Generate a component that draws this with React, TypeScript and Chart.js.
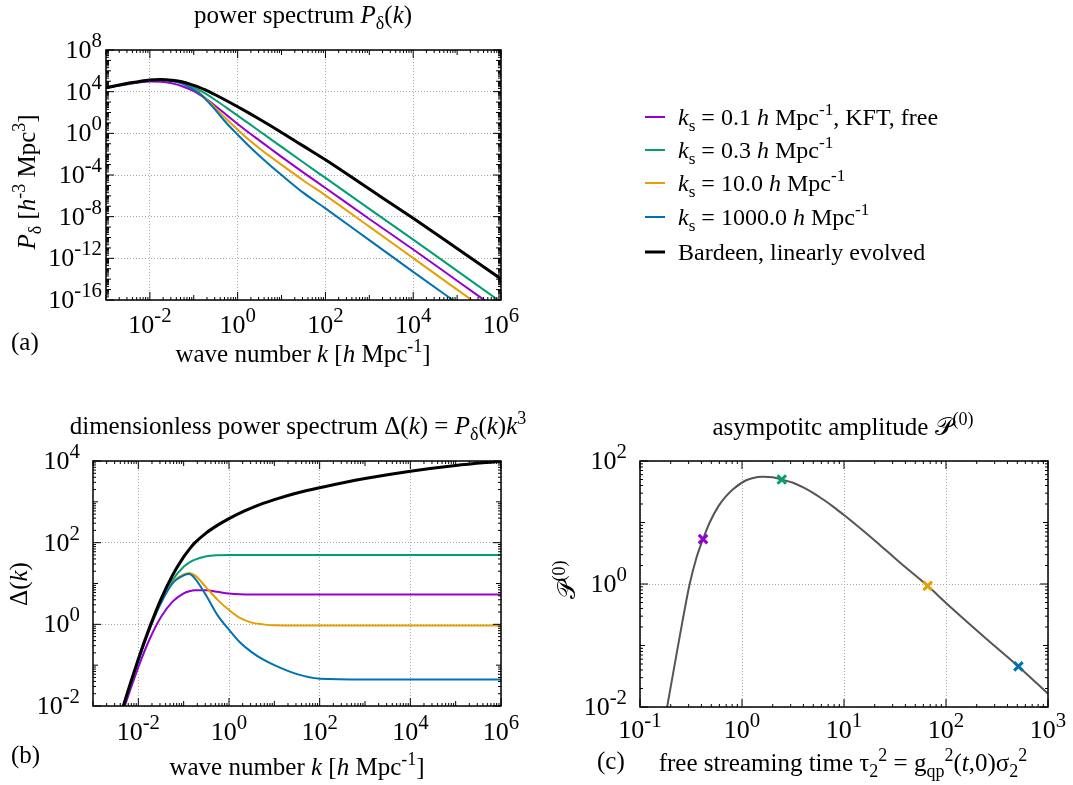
import React, { useEffect, useRef } from "react";
import { Chart, registerables } from "chart.js";

Chart.register(...registerables);

const FONT = '"Liberation Serif", "DejaVu Serif", "DejaVu Sans", serif';
const FS_TITLE = 25;
const FS_LEGEND = 24;
const FS_TICK = 26;
const GRID = "#a8a8a8";

const C_PURPLE = "#9400d3";
const C_GREEN = "#009e73";
const C_ORANGE = "#e69f00";
const C_BLUE = "#0072b2";
const C_BLACK = "#000000";
const C_CURVE = "#555555";

// ---------- shared wave-number grid ----------
const kGrid = [1e-3, 3.16e-3, 1e-2, 1.78e-2, 3.16e-2, 5.62e-2, 0.1, 0.133, 0.178, 0.316, 0.562, 1, 1.78, 3.16, 5.62, 10, 31.6, 100, 1e3, 1e4, 1e5, 1e6];

// ---------- Panel (a): power spectrum P(k) ----------
const pKs01 = [2.4e4, 5.25e4, 9.33e4, 8.91e4, 6.31e4, 3.16e4, 1.12e4, 5.62e3, 2.51e3, 398, 56.2, 7.94, 1.2, 0.2, 0.0331, 5.5e-3, 1.7e-4, 5.62e-6, 6.03e-9, 7.08e-12, 7.08e-15, 7.08e-18];
const pKs03 = [2.4e4, 5.75e4, 1.35e5, 1.45e5, 1.17e5, 7.08e4, 2.63e4, 1.43e4, 7.08e3, 1.5e3, 281, 50.1, 8.91, 1.58, 0.282, 0.0501, 1.58e-3, 5.25e-5, 5.62e-8, 6.31e-11, 6.31e-14, 6.31e-17];
const pKs10 = [2.4e4, 5.75e4, 1.32e5, 1.41e5, 1.12e5, 5.89e4, 1.66e4, 7.67e3, 2.82e3, 251, 22.4, 2.24, 0.251, 0.0347, 5.62e-3, 9.44e-4, 2.95e-5, 1.12e-6, 1.1e-9, 1.05e-12, 1e-15, 1e-18];
const pKs1000 = [2.4e4, 5.75e4, 1.26e5, 1.35e5, 1.05e5, 5.62e4, 1.58e4, 7.16e3, 2.34e3, 158, 9.33, 0.741, 0.0631, 6.61e-3, 7.76e-4, 1e-4, 1.91e-6, 6.31e-8, 5.62e-11, 5.01e-14, 5.01e-17, 5.01e-20];
const pBardeen = [2.4e4, 6.31e4, 1.35e5, 1.51e5, 1.26e5, 8.51e4, 3.98e4, 2.6e4, 1.55e4, 4.79e3, 1.35e3, 359, 91.2, 22.4, 5.25, 1.19, 0.0589, 2.88e-3, 4.47e-6, 6.92e-9, 8.71e-12, 1.05e-14];
const xExpA = [-2, 0, 2, 4, 6];
const yExpA = [8, 4, 0, -4, -8, -12, -16];

// ---------- Panel (b): dimensionless power spectrum Δ(k) ----------
const dKs01 = [2.4e-5, 2.0e-3, 0.0891, 0.437, 1.51, 3.55, 5.75, 6.46, 6.84, 6.84, 6.24, 5.69, 5.46, 5.38, 5.37, 5.37, 5.37, 5.37, 5.37, 5.37, 5.37, 5.37];
const dKs03 = [2.4e-5, 2.34e-3, 0.135, 0.804, 3.69, 12.0, 25.8, 32.6, 38.5, 46.6, 49.5, 50.1, 50.1, 50.1, 50.1, 50.1, 50.1, 50.1, 50.1, 50.1, 50.1, 50.1];
const dKs10 = [2.4e-5, 2.29e-3, 0.132, 0.794, 3.55, 10.5, 16.6, 18.2, 15.8, 7.94, 3.98, 2.24, 1.41, 1.1, 1.0, 0.944, 0.933, 0.933, 0.933, 0.933, 0.933, 0.933];
const dKs1000 = [2.4e-5, 2.29e-3, 0.126, 0.759, 3.31, 10.0, 15.8, 17.0, 13.2, 5.01, 1.66, 0.741, 0.355, 0.209, 0.138, 0.1, 0.0603, 0.0468, 0.0447, 0.0447, 0.0447, 0.0447];
const dBardeen = [2.4e-5, 2.4e-3, 0.141, 0.853, 4.16, 15.6, 44.7, 68.7, 100, 174, 269, 389, 537, 708, 912, 1135, 1648, 2213, 3715, 5623, 7762, 9900];
const xExpB = [-2, 0, 2, 4, 6];
const yExpB = [4, 2, 0, -2];

// ---------- Panel (c): asymptotic amplitude ----------
const tauC = [0.18, 0.1854, 0.2051, 0.227, 0.26, 0.3069, 0.3565, 0.415, 0.4819, 0.5902, 0.6918, 0.8166, 1.0617, 1.2589, 1.607, 1.995, 2.455, 3.162, 3.981, 5.012, 6.31, 7.943, 10, 15.85, 25.12, 39.81, 66.07, 100, 251.2, 512.9, 1000];
const ampC = [0.00794, 0.01047, 0.0269, 0.0692, 0.24, 1.0, 2.63, 5.37, 10.0, 18.62, 26.3, 34.67, 47.3, 52.5, 55.3, 54.2, 50.1, 44.2, 37.2, 30.1, 23.4, 17.8, 13.2, 7.05, 3.67, 1.89, 0.933, 0.493, 0.1268, 0.0457, 0.0164];
const tauMarks = [0.415, 2.455, 66.07, 512.9];
const ampMarks = [5.37, 50.1, 0.933, 0.0457];
const markColors = [C_PURPLE, C_GREEN, C_ORANGE, C_BLUE];
const xExpC = [-1, 0, 1, 2, 3];
const yExpC = [2, 0, -2];

// ---------- rich text ----------
type Seg = { t: string; it?: boolean; sup?: boolean; sub?: boolean };
const n = (t: string): Seg => ({ t });
const it = (t: string): Seg => ({ t, it: true });
const sup = (t: string): Seg => ({ t, sup: true });
const sub = (t: string): Seg => ({ t, sub: true });

function segFont(s: Seg, size: number, sc: number) {
  const sz = s.sup || s.sub ? size * sc : size;
  return `${s.it ? "italic " : ""}${sz}px ${FONT}`;
}
function drawRich(ctx: CanvasRenderingContext2D, segs: Seg[], x: number, y: number, size: number, align: string, sc = 0.72) {
  let w = 0;
  for (const s of segs) {
    ctx.font = segFont(s, size, sc);
    w += ctx.measureText(s.t).width;
  }
  let cx = align === "center" ? x - w / 2 : align === "right" ? x - w : x;
  ctx.textAlign = "left";
  ctx.textBaseline = "alphabetic";
  for (const s of segs) {
    ctx.font = segFont(s, size, sc);
    const dy = s.sup ? -size * 0.42 : s.sub ? size * 0.24 : 0;
    ctx.fillText(s.t, cx, y + dy);
    cx += ctx.measureText(s.t).width;
  }
}

type TextItem = { segs: Seg[]; x: number; y: number; align: string; rot?: boolean };
type Deco = {
  offX: number;
  offY: number;
  xExps: number[];
  yExps: number[];
  yLabelRight: number;
  xLabelBase: number;
  texts: TextItem[];
  legend?: { x1: number; x2: number; tx: number; ys: number[]; labels: Seg[][]; colors: string[]; widths: number[] };
};

const waveTitle = [n("wave number "), it("k"), n(" ["), it("h"), n(" Mpc"), sup("-1"), n("]")];
const legendLabels: Seg[][] = [
  [it("k"), sub("s"), n(" = 0.1 "), it("h"), n(" Mpc"), sup("-1"), n(", KFT, free")],
  [it("k"), sub("s"), n(" = 0.3 "), it("h"), n(" Mpc"), sup("-1")],
  [it("k"), sub("s"), n(" = 10.0 "), it("h"), n(" Mpc"), sup("-1")],
  [it("k"), sub("s"), n(" = 1000.0 "), it("h"), n(" Mpc"), sup("-1")],
  [n("Bardeen, linearly evolved")],
];
const SCRIPT_P = "\u{1D4AB}";

function drawDeco(chart: any, d: Deco) {
  const ctx: CanvasRenderingContext2D = chart.ctx;
  const { left, right, top, bottom } = chart.chartArea;
  const xs = chart.scales.x;
  const ys = chart.scales.y;
  ctx.save();
  ctx.strokeStyle = "#000";
  ctx.lineWidth = 1;
  const isLab = (exps: number[], v: number) => exps.some((e) => Math.abs(Math.log10(v) - e) < 1e-6);
  const eachMinor = (min: number, max: number, fn: (v: number, m: number) => void) => {
    for (let dc = Math.floor(Math.log10(min)); dc <= Math.ceil(Math.log10(max)); dc++) {
      for (let m = 1; m <= 9; m++) {
        const v = m * Math.pow(10, dc);
        if (v < min * 0.9999 || v > max * 1.0001) continue;
        fn(v, m);
      }
    }
  };
  eachMinor(xs.min, xs.max, (v, m) => {
    const len = m === 1 ? (isLab(d.xExps, v) ? 8 : 5) : 3;
    const p = xs.getPixelForValue(v);
    ctx.beginPath();
    ctx.moveTo(p, bottom);
    ctx.lineTo(p, bottom - len);
    ctx.moveTo(p, top);
    ctx.lineTo(p, top + len);
    ctx.stroke();
  });
  eachMinor(ys.min, ys.max, (v, m) => {
    const len = m === 1 ? (isLab(d.yExps, v) ? 8 : 5) : 3;
    const p = ys.getPixelForValue(v);
    ctx.beginPath();
    ctx.moveTo(left, p);
    ctx.lineTo(left + len, p);
    ctx.moveTo(right, p);
    ctx.lineTo(right - len, p);
    ctx.stroke();
  });
  ctx.lineWidth = 1.5;
  ctx.strokeRect(left, top, right - left, bottom - top);

  ctx.fillStyle = "#000";
  ctx.translate(-d.offX, -d.offY);
  for (const e of d.xExps) {
    const p = xs.getPixelForValue(Math.pow(10, e)) + d.offX;
    drawRich(ctx, [n("10"), sup(String(e))], p, d.xLabelBase, FS_TICK, "center", 0.8);
  }
  for (const e of d.yExps) {
    const p = ys.getPixelForValue(Math.pow(10, e)) + d.offY;
    drawRich(ctx, [n("10"), sup(String(e))], d.yLabelRight, p + 8, FS_TICK, "right", 0.8);
  }
  for (const t of d.texts) {
    if (t.rot) {
      ctx.save();
      ctx.translate(t.x, t.y);
      ctx.rotate(-Math.PI / 2);
      drawRich(ctx, t.segs, 0, 0, FS_TITLE, t.align);
      ctx.restore();
    } else {
      drawRich(ctx, t.segs, t.x, t.y, FS_TITLE, t.align);
    }
  }
  if (d.legend) {
    const L = d.legend;
    L.labels.forEach((segs, i) => {
      ctx.strokeStyle = L.colors[i];
      ctx.lineWidth = L.widths[i];
      ctx.beginPath();
      ctx.moveTo(L.x1, L.ys[i]);
      ctx.lineTo(L.x2, L.ys[i]);
      ctx.stroke();
      ctx.fillStyle = "#000";
      drawRich(ctx, segs, L.tx, L.ys[i] + 8, FS_LEGEND, "left");
    });
  }
  ctx.restore();
}

function baseOptions(xmin: number, xmax: number, ymin: number, ymax: number, xExps: number[], yExps: number[], pad: any) {
  return {
    responsive: false,
    animation: false,
    devicePixelRatio: 1,
    events: [],
    layout: { padding: pad },
    plugins: { legend: { display: false }, tooltip: { enabled: false }, title: { display: false } },
    elements: { point: { radius: 0 }, line: { cubicInterpolationMode: "monotone" } },
    scales: {
      x: {
        type: "logarithmic",
        min: xmin,
        max: xmax,
        afterBuildTicks: (s: any) => {
          s.ticks = xExps.map((e) => ({ value: Math.pow(10, e) }));
        },
        ticks: { display: false },
        grid: { drawTicks: false, color: GRID, lineWidth: 1 },
        border: { display: false, dash: [1, 2] },
      },
      y: {
        type: "logarithmic",
        min: ymin,
        max: ymax,
        afterBuildTicks: (s: any) => {
          s.ticks = yExps.map((e) => ({ value: Math.pow(10, e) }));
        },
        ticks: { display: false },
        grid: { drawTicks: false, color: GRID, lineWidth: 1 },
        border: { display: false, dash: [1, 2] },
      },
    },
  };
}

const pts = (xs: number[], ys: number[]) => xs.map((x, i) => ({ x, y: ys[i] }));
const lineDs = (label: string, xs: number[], ys: number[], color: string, width: number, order: number) => ({
  label,
  data: pts(xs, ys),
  borderColor: color,
  backgroundColor: color,
  borderWidth: width,
  pointRadius: 0,
  fill: false,
  order,
});

function buildA(canvas: HTMLCanvasElement) {
  const deco: Deco = {
    offX: 0,
    offY: 0,
    xExps: xExpA,
    yExps: yExpA,
    yLabelRight: 102,
    xLabelBase: 333,
    texts: [
      { segs: [n("power spectrum "), it("P"), sub("δ"), n("("), it("k"), n(")")], x: 303, y: 23, align: "center" },
      { segs: waveTitle, x: 303, y: 362, align: "center" },
      { segs: [n("(a)")], x: 11, y: 350, align: "left" },
      { segs: [it("P"), sub("δ"), n(" ["), it("h"), sup("-3"), n(" Mpc"), sup("3"), n("]")], x: 35, y: 182, align: "center", rot: true },
    ],
    legend: {
      x1: 645,
      x2: 665,
      tx: 678,
      ys: [117, 150, 183, 217, 252],
      labels: legendLabels,
      colors: [C_PURPLE, C_GREEN, C_ORANGE, C_BLUE, C_BLACK],
      widths: [2, 2, 2, 2, 3],
    },
  };
  return new Chart(canvas, {
    type: "line",
    data: {
      datasets: [
        lineDs("ks = 0.1 h/Mpc, KFT, free", kGrid, pKs01, C_PURPLE, 2, 4),
        lineDs("ks = 0.3 h/Mpc", kGrid, pKs03, C_GREEN, 2, 3),
        lineDs("ks = 10.0 h/Mpc", kGrid, pKs10, C_ORANGE, 2, 2),
        lineDs("ks = 1000.0 h/Mpc", kGrid, pKs1000, C_BLUE, 2, 1),
        lineDs("Bardeen, linearly evolved", kGrid, pBardeen, C_BLACK, 3, 0),
      ],
    },
    options: baseOptions(1e-3, 1e6, 1e-16, 1e8, xExpA, yExpA, { left: 106, top: 50, right: 572, bottom: 92 }) as any,
    plugins: [{ id: "decoA", afterDraw: (c: any) => drawDeco(c, deco) }],
  });
}

function buildB(canvas: HTMLCanvasElement) {
  const deco: Deco = {
    offX: 0,
    offY: 392,
    xExps: xExpB,
    yExps: yExpB,
    yLabelRight: 80,
    xLabelBase: 740,
    texts: [
      {
        segs: [n("dimensionless power spectrum Δ("), it("k"), n(") = "), it("P"), sub("δ"), n("("), it("k"), n(")"), it("k"), sup("3")],
        x: 298,
        y: 434,
        align: "center",
      },
      { segs: waveTitle, x: 297, y: 775, align: "center" },
      { segs: [n("(b)")], x: 11, y: 763, align: "left" },
      { segs: [n("Δ("), it("k"), n(")")], x: 27, y: 584, align: "center", rot: true },
    ],
  };
  return new Chart(canvas, {
    type: "line",
    data: {
      datasets: [
        lineDs("ks = 0.1 h/Mpc, KFT, free", kGrid, dKs01, C_PURPLE, 2, 4),
        lineDs("ks = 0.3 h/Mpc", kGrid, dKs03, C_GREEN, 2, 3),
        lineDs("ks = 10.0 h/Mpc", kGrid, dKs10, C_ORANGE, 2, 2),
        lineDs("ks = 1000.0 h/Mpc", kGrid, dKs1000, C_BLUE, 2, 1),
        lineDs("Bardeen, linearly evolved", kGrid, dBardeen, C_BLACK, 3, 0),
      ],
    },
    options: baseOptions(1e-3, 1e6, 1e-2, 1e4, xExpB, yExpB, { left: 93, top: 69, right: 34, bottom: 79 }) as any,
    plugins: [{ id: "decoB", afterDraw: (c: any) => drawDeco(c, deco) }],
  });
}

function buildC(canvas: HTMLCanvasElement) {
  const deco: Deco = {
    offX: 535,
    offY: 392,
    xExps: xExpC,
    yExps: yExpC,
    yLabelRight: 627,
    xLabelBase: 738,
    texts: [
      { segs: [n("asympotitc amplitude "), n(SCRIPT_P), sup("(0)")], x: 843, y: 435, align: "center" },
      {
        segs: [n("free streaming time τ"), sub("2"), sup("2"), n(" = g"), sub("qp"), sup("2"), n("("), it("t"), n(",0)σ"), sub("2"), sup("2")],
        x: 843,
        y: 771,
        align: "center",
      },
      { segs: [n("(c)")], x: 597, y: 769, align: "left" },
      { segs: [n(SCRIPT_P), sup("(0)")], x: 575, y: 580, align: "center", rot: true },
    ],
  };
  return new Chart(canvas, {
    type: "line",
    data: {
      datasets: [
        {
          label: "markers",
          data: pts(tauMarks, ampMarks),
          showLine: false,
          pointStyle: "crossRot",
          pointRadius: 6,
          pointBorderWidth: 3,
          pointBorderColor: markColors,
          pointBackgroundColor: markColors,
          order: 0,
        },
        lineDs("amplitude", tauC, ampC, C_CURVE, 2, 1),
      ],
    },
    options: baseOptions(0.1, 1000, 1e-2, 1e2, xExpC, yExpC, { left: 105, top: 69, right: 25, bottom: 78 }) as any,
    plugins: [{ id: "decoC", afterDraw: (c: any) => drawDeco(c, deco) }],
  });
}

function Panel(props: { left: number; top: number; width: number; height: number; build: (c: HTMLCanvasElement) => Chart }) {
  const ref = useRef<HTMLCanvasElement>(null);
  useEffect(() => {
    const chart = props.build(ref.current!);
    return () => chart.destroy();
  }, []);
  return (
    <canvas
      ref={ref}
      width={props.width}
      height={props.height}
      style={{ position: "absolute", left: props.left, top: props.top, width: props.width, height: props.height }}
    />
  );
}

export default function App() {
  return (
    <div style={{ position: "absolute", left: 0, top: 0, width: 1073, height: 785, background: "#fff", overflow: "hidden" }}>
      <Panel left={0} top={0} width={1073} height={392} build={buildA} />
      <Panel left={0} top={392} width={535} height={393} build={buildB} />
      <Panel left={535} top={392} width={538} height={393} build={buildC} />
    </div>
  );
}
